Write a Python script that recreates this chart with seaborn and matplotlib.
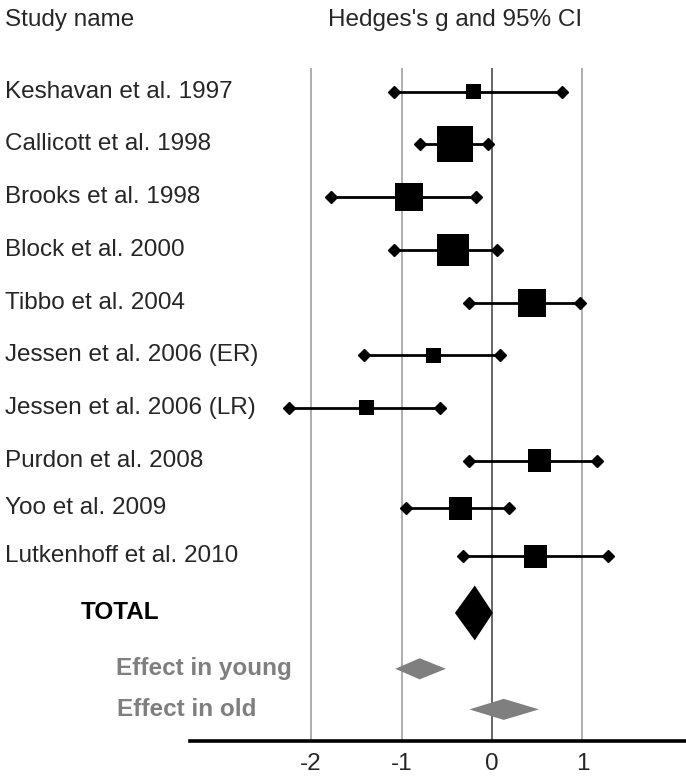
import seaborn as sns
import matplotlib
matplotlib.use('Agg')
import matplotlib.pyplot as plt
import matplotlib.transforms as mtrans
import pandas as pd

studies = ['Keshavan et al. 1997', 'Callicott et al. 1998', 'Brooks et al. 1998',
           'Block et al. 2000', 'Tibbo et al. 2004', 'Jessen et al. 2006 (ER)',
           'Jessen et al. 2006 (LR)', 'Purdon et al. 2008', 'Yoo et al. 2009',
           'Lutkenhoff et al. 2010']
g = [-0.20, -0.41, -0.92, -0.43, 0.44, -0.65, -1.39, 0.53, -0.35, 0.48]
ci_lo = [-1.08, -0.80, -1.78, -1.08, -0.25, -1.42, -2.25, -0.25, -0.95, -0.32]
ci_hi = [0.77, -0.04, -0.18, 0.06, 0.97, 0.09, -0.57, 1.16, 0.19, 1.28]
weight = [15, 36, 28, 32, 28, 15, 15, 23, 23, 23]

summary_names = ['TOTAL', 'Effect in young', 'Effect in old']
summary_g = [-0.19, -0.80, 0.13]
summary_lo = [-0.41, -1.07, -0.25]
summary_hi = [0.01, -0.51, 0.52]

ticks = [-2, -1, 0, 1]

# layout: row positions (row units, top to bottom)
study_rows = [0, 1, 2, 3, 4, 5, 6, 7, 7.9, 8.81]
summary_rows = [9.89, 10.95, 11.72]
summary_half = [0.52, 0.2, 0.2]
summary_color = ['black', '#7f7f7f', '#7f7f7f']

sns.set_style('white')
plt.rcParams['font.family'] = ['Liberation Sans', 'DejaVu Sans']
plt.rcParams['axes.unicode_minus'] = False
FS = 17.5

df = pd.DataFrame({'study': studies, 'g': g, 'lo': ci_lo, 'hi': ci_hi,
                   'w': weight, 'row': study_rows})

fig = plt.figure(figsize=(6.86, 7.76), dpi=100)
ax = fig.add_axes([190 / 686, 35 / 776, 496 / 686, 673 / 776])
ax.set_xlim(-3.34, 2.146)
ax.set_ylim(12.32, -0.45)

for t in ticks:
    ax.axvline(t, color='#5a5a5a' if t == 0 else '#a8a8a8', lw=1.3, zorder=1)

ax.hlines(df.row, df.lo, df.hi, color='black', lw=2.0, zorder=2)
ax.plot(df.lo, df.row, 'D', color='black', ms=6, zorder=2)
ax.plot(df.hi, df.row, 'D', color='black', ms=6, zorder=2)
sns.scatterplot(data=df, x='g', y='row', marker='s', s=(df.w * 0.72) ** 2,
                color='black', edgecolor='black', linewidth=0, legend=False,
                ax=ax, zorder=3)

for gi, lo, hi, r, h, c in zip(summary_g, summary_lo, summary_hi,
                               summary_rows, summary_half, summary_color):
    ax.fill([lo, gi, hi, gi], [r, r - h, r, r + h], color=c, lw=0, zorder=3)

sns.despine(ax=ax, left=True, top=True, right=True)
ax.spines['bottom'].set_linewidth(2.6)
ax.spines['bottom'].set_color('black')
ax.set_yticks([])
ax.set_xticks(ticks)
ax.set_xticklabels([str(t) for t in ticks], fontsize=FS)
ax.tick_params(axis='x', length=0, pad=9)
ax.set_xlabel('')
ax.set_ylabel('')

tr = mtrans.blended_transform_factory(fig.transFigure, ax.transData)
for name, r in zip(studies, study_rows):
    ax.text(5 / 686, r, name, transform=tr, fontsize=FS, va='center', ha='left')

label_x = [81, 116, 117]
for name, r, c, lx in zip(summary_names, summary_rows, summary_color, label_x):
    ax.text(lx / 686, r, name, transform=tr, fontsize=FS, va='center',
            ha='left', fontweight='bold', color=c)

fig.text(5 / 686, 1 - 20 / 776, 'Study name', fontsize=FS, va='center', ha='left')
fig.text(455 / 686, 1 - 20 / 776, "Hedges's g and 95% CI", fontsize=FS,
         va='center', ha='center')

fig.savefig('out.png', dpi=100)
